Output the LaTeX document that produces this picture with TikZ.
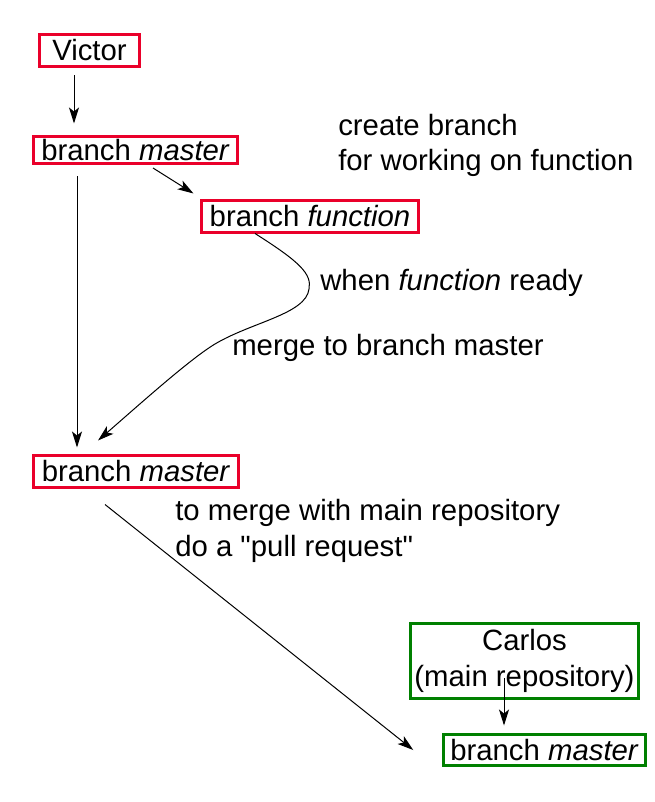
\documentclass[tikz,border=0pt]{standalone}
\usepackage{fontspec}
\setmainfont{Liberation Sans}
\usepackage{tikz}
\usetikzlibrary{arrows.meta,calc}
\definecolor{localred}{RGB}{234,0,42}
\definecolor{maingreen}{RGB}{0,128,0}
\tikzset{
  flow/.style={-{Stealth[length=12pt,width=7.5pt,inset=3pt]},line width=0.75pt},
  branchbox/.style={draw=localred,line width=2.25pt,inner sep=0.5pt,minimum height=24pt,align=center},
  mainbox/.style={branchbox,draw=maingreen},
  note/.style={anchor=west,align=left,inner sep=0pt},
}

\begin{document}
\begin{tikzpicture}[x=0.75pt,y=-0.75pt,font=\fontsize{22}{26.5}\selectfont]
  \path[use as bounding box] (0,0) rectangle (655,802);

  \node[branchbox,minimum width=75pt] (victor) at (89.5,50.5) {Victor};
  \node[branchbox,minimum width=153pt,minimum height=20.25pt] (master1) at (135.5,150) {branch \textit{master}};
  \node[branchbox,minimum width=162.75pt] (function) at (310,216.5) {branch \textit{function}};
  \node[branchbox,minimum width=153.75pt] (master2) at (136,471.5) {branch \textit{master}};
  \node[mainbox,minimum width=171pt,minimum height=56.25pt] (carlos) at (524.5,661) {Carlos\\(main repository)};
  \node[mainbox,minimum width=151.5pt,minimum height=23.25pt] (master3) at (544.5,750) {branch \textit{master}};

  \node[note] (createnote) at (338,145.5) {create branch\\for working on function};
  \node[note] (readynote) at (320,282.5) {when \textit{function} ready};
  \node[note] (mergenote) at (232,347.5) {merge to branch master};
  \node[note] (pullnote) at (175,531) {to merge with main repository\\do a \textquotedbl pull request\textquotedbl};

  \draw[flow] ($(victor.south)+(-15.5,7.5)$) -- ($(master1.north)+(-61.5,-11.5)$);
  \draw[flow] ($(master1.south)+(17.5,3)$) -- ($(function.north west)+(-6.5,-5.5)$);
  \draw[flow] ($(master1.south)+(-58.5,11.5)$) -- ($(master2.north)+(-59,-6.5)$);
  \draw[flow] ($(function.south)+(-55,-0.5)$)
    .. controls ($(function.south)+(-10,28)$) and ($(function.south)+(2,40)$) .. ($(function.south)+(-1,55)$)
    .. controls ($(function.south)+(-4,80)$) and ($(function.south)+(-58,88)$) .. ($(function.south)+(-95,110)$)
    .. controls ($(function.south)+(-120,125)$) and ($(function.south)+(-170,170)$) .. ($(master2.north)+(-38,-13.5)$);
  \draw[flow] ($(master2.south)+(-31,15.5)$) -- ($(master3.west)+(-28.75,0)$);
  \draw[flow] ($(carlos.center)+(-20.5,17)$) -- ($(master3.north)+(-40.5,-7.5)$);
\end{tikzpicture}
\end{document}
